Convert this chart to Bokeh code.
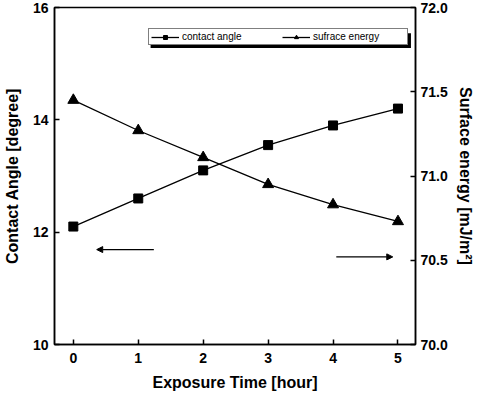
from bokeh.plotting import figure
from bokeh.models import (Range1d, LinearAxis, Legend, LegendItem, Arrow, NormalHead,
                          BoxAnnotation, FixedTicker, PrintfTickFormatter)
from bokeh.embed import file_html
from bokeh.resources import INLINE

hours = [0, 1, 2, 3, 4, 5]
contact_angle = [12.1, 12.6, 13.1, 13.55, 13.9, 14.2]
surface_energy = [71.45, 71.27, 71.11, 70.95, 70.83, 70.73]

x_ticks = [0, 1, 2, 3, 4, 5]
left_ticks = [10, 12, 14, 16]
right_ticks = [70.0, 70.5, 71.0, 71.5, 72.0]

# arrows indicating which axis each series belongs to
left_arrow = dict(x_start=1.24, x_end=0.36, y=11.69)
right_arrow = dict(x_start=4.05, x_end=4.92, y=70.52)

FONT = "Liberation Sans"

p = figure(width=476, height=400, output_backend="svg", toolbar_location=None,
           x_range=Range1d(-0.29, 5.27), y_range=Range1d(10, 16),
           min_border_left=51, min_border_top=7, min_border_right=58, min_border_bottom=56)
p.extra_y_ranges = {"se": Range1d(70, 72)}
p.grid.visible = False
p.outline_line_color = "black"
p.outline_line_width = 1.5
p.background_fill_color = "white"
p.border_fill_color = "white"

def style(ax, label):
    ax.axis_label = label
    ax.axis_label_text_font = FONT
    ax.axis_label_text_font_style = "bold"
    ax.axis_label_text_font_size = "16px"
    ax.axis_label_text_color = "black"
    ax.major_label_text_font = FONT
    ax.major_label_text_font_style = "bold"
    ax.major_label_text_font_size = "14px"
    ax.major_label_text_color = "black"
    ax.axis_line_color = "black"
    ax.axis_line_width = 1.5
    ax.major_tick_in = 5
    ax.major_tick_out = 0
    ax.major_tick_line_color = "black"
    ax.major_tick_line_width = 1.5
    ax.minor_tick_line_color = None

style(p.xaxis[0], "Exposure Time [hour]")
p.xaxis[0].ticker = FixedTicker(ticks=x_ticks)
p.xaxis[0].major_label_standoff = 8
p.xaxis[0].axis_label_standoff = 8

style(p.yaxis[0], "Contact Angle [degree]")
p.yaxis[0].ticker = FixedTicker(ticks=left_ticks)
p.yaxis[0].major_label_standoff = 6
p.yaxis[0].axis_label_standoff = 9

rax = LinearAxis(y_range_name="se")
style(rax, "Surface energy [mJ/m²]")
rax.ticker = FixedTicker(ticks=right_ticks)
rax.formatter = PrintfTickFormatter(format="%.1f")
rax.major_label_standoff = 5
rax.axis_label_standoff = 6
p.add_layout(rax, "right")

l1 = p.line(hours, contact_angle, line_color="black", line_width=1.3)
m1 = p.scatter(hours, contact_angle, marker="square", size=9, fill_color="black", line_color="black")
l2 = p.line(hours, surface_energy, line_color="black", line_width=1.3, y_range_name="se")
m2 = p.scatter(hours, surface_energy, marker="triangle", size=11, fill_color="black", line_color="black",
               y_range_name="se")

p.add_layout(Arrow(end=NormalHead(size=6, fill_color="black", line_color="black"),
                   x_start=left_arrow["x_start"], x_end=left_arrow["x_end"],
                   y_start=left_arrow["y"], y_end=left_arrow["y"], line_width=1.3))
p.add_layout(Arrow(end=NormalHead(size=6, fill_color="black", line_color="black"),
                   x_start=right_arrow["x_start"], x_end=right_arrow["x_end"],
                   y_start=right_arrow["y"], y_end=right_arrow["y"], line_width=1.3,
                   y_range_name="se"))

# legend shadow
p.add_layout(BoxAnnotation(left=1.19, right=5.2, top=15.54, bottom=15.28,
                           fill_color="black", fill_alpha=1, line_color=None))

legend = Legend(items=[LegendItem(label="contact angle", renderers=[l1, m1]),
                       LegendItem(label="sufrace energy", renderers=[l2, m2])],
                orientation="horizontal", location=(94, 299),
                padding=2, margin=0, spacing=8, glyph_width=28, glyph_height=10,
                label_height=10, label_width=92, label_standoff=3,
                label_text_font=FONT, label_text_font_size="10px", label_text_color="black",
                border_line_color="black", border_line_width=1.5,
                background_fill_color="white", background_fill_alpha=1)
p.add_layout(legend)

open("out.html", "w").write(file_html(p, INLINE))
